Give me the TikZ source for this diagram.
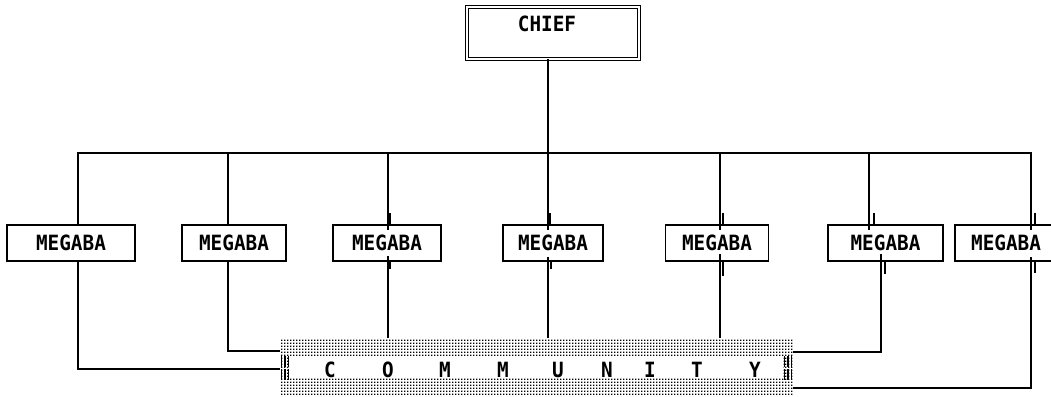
\documentclass[tikz,border=0pt]{standalone}
\usepackage{fontspec}
\setmonofont[FakeStretch=0.92]{DejaVu Sans Mono}
\usetikzlibrary{patterns}

% dense square-dot screen for the community band
\pgfdeclarepatternformonly{screendots}{\pgfqpoint{-1pt}{-1pt}}{\pgfqpoint{2pt}{2pt}}{\pgfqpoint{3pt}{3pt}}{%
  \pgfpathrectangle{\pgfqpoint{-0.85pt}{-0.85pt}}{\pgfqpoint{1.7pt}{1.7pt}}%
  \pgfusepath{fill}}

\tikzset{
  wire/.style={line width=1.2pt, line cap=rect},
  tick/.style={line width=1.2pt},
  plotfont/.style={inner sep=0pt, font=\ttfamily\bfseries\fontsize{21}{21}\selectfont},
  unitbox/.style={plotfont, draw, line width=1.3pt, minimum height=36pt},
  headbox/.style={draw, double, double distance=1.8pt, line width=1.3pt,
    inner sep=0pt},
  bar/.style={line width=1.1pt, dash pattern=on 11pt off 2pt},
}

\begin{document}
\begin{tikzpicture}[x=1pt, y=-1pt]
\useasboundingbox (0,0) rectangle (1051,396);

% head of the hierarchy
\node[headbox, minimum width=172pt, minimum height=52pt] (chief) at (553,33) {};
\node[plotfont, anchor=base] (chieflabel) at (547,32) {CHIEF};

% the seven sub-units
\node[unitbox, minimum width=128pt] (b1) at (71,243) {MEGABA};
\node[unitbox, minimum width=104pt] (b2) at (234,243) {MEGABA};
\node[unitbox, minimum width=108pt] (b3) at (387,243) {MEGABA};
\node[unitbox, minimum width=100pt] (b4) at (553,243) {MEGABA};
\node[unitbox, minimum width=103pt] (b5) at (717,243) {MEGABA};
\node[unitbox, minimum width=115pt] (b6) at (885.5,243) {MEGABA};
\node[unitbox, minimum width=102pt] (b7) at (1006,243) {MEGABA};

% community band: dotted frame with a clear strip for the lettering
\node[pattern=screendots, inner sep=0pt, minimum width=513pt, minimum height=57pt]
  (comm) at (536.5,366.5) {};
\fill[white] (290,357) rectangle (783,377);
\foreach \x in {281.5,285,288.5,784.5,788,791.5}
  \draw[bar] (\x,356) -- (\x,382);
\foreach \ch/\x [count=\i] in {C/330,O/388,M/445,M/503,U/558,N/607,I/650,T/697,Y/755}
  \node[plotfont, anchor=base] (c\i) at (\x,377) {\ch};

% distribution bus
\coordinate (bus1) at (78,153);
\coordinate (bus2) at (228,153);
\coordinate (bus3) at (388,153);
\coordinate (bus4) at (548,153);
\coordinate (bus5) at (720,153);
\coordinate (bus6) at (869,153);
\coordinate (bus7) at (1031,153);

\draw[wire] (chief.south -| bus4) -- (bus4);
\draw[wire] (bus1) -- (bus7);

% drops from the bus into each unit
\draw[wire] (bus1) -- (bus1 |- b1.north);
\draw[wire] (bus2) -- (bus2 |- b2.north);
\foreach \i/\d in {3/2,4/2,5/3,6/5,7/4}{
  \draw[wire] (bus\i) -- ([yshift=-5pt]bus\i |- b\i.north);
  \draw[tick] ([xshift=\d pt]bus\i |- b\i.north) -- ++(0,-11);
}

% returns from each unit down to the community
\coordinate (up1) at (78,261);
\coordinate (up2) at (228,261);
\coordinate (up3) at (388,261);
\coordinate (up4) at (548,261);
\coordinate (up5) at (720,261);
\coordinate (up6) at (881,261);
\coordinate (up7) at (1031,261);

\draw[wire] (up1 |- b1.south) |- (comm.west |- 0,369);
\draw[wire] (up2 |- b2.south) |- (comm.west |- 0,351);
\draw[wire] ([yshift=5pt]up3 |- b3.south) -- (up3 |- comm.north);
\draw[wire] ([yshift=4pt]up4 |- b4.south) -- (up4 |- comm.north);
\draw[wire] ([yshift=7pt]up5 |- b5.south) -- (up5 |- comm.north);
\draw[wire] ([yshift=7pt]up6 |- b6.south) |- (comm.east |- 0,352);
\draw[wire] ([yshift=4pt]up7 |- b7.south) |- (comm.east |- 0,388);

\draw[tick] ([xshift=2pt]up3 |- b3.south) -- ++(0,7);
\draw[tick] ([xshift=3pt]up4 |- b4.south) -- ++(0,7);
\draw[tick] ([xshift=3pt]up5 |- b5.south) -- ++(0,14);
\draw[tick] ([xshift=4pt]up6 |- b6.south) -- ++(0,12);
\draw[tick] ([xshift=4pt]up7 |- b7.south) -- ++(0,11);
\end{tikzpicture}
\end{document}
